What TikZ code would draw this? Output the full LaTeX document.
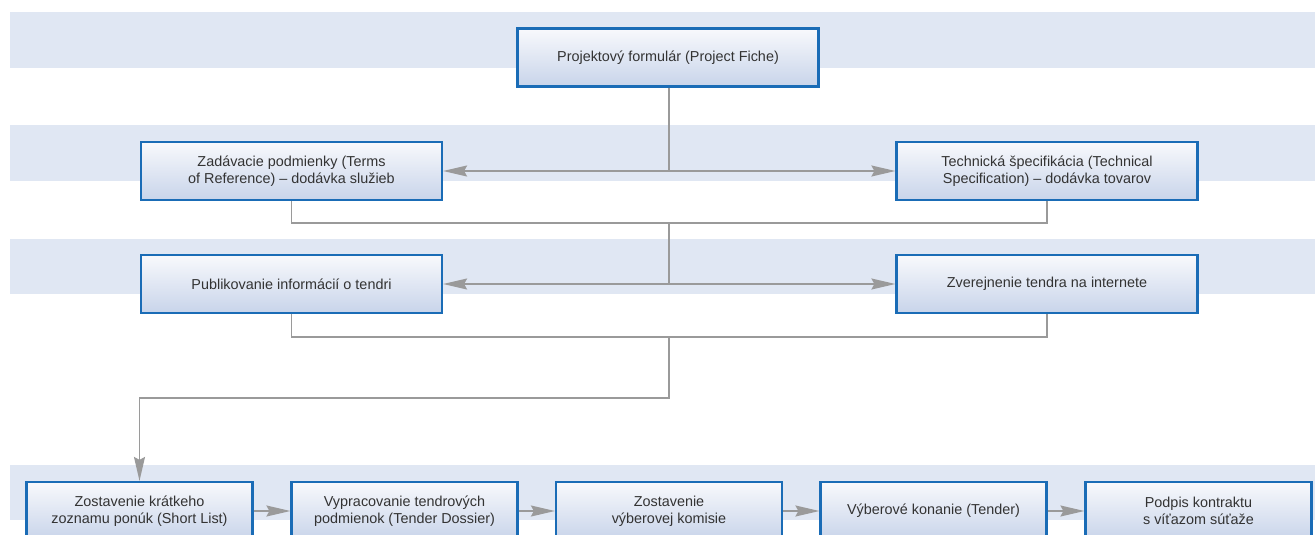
\documentclass[tikz,border=0pt]{standalone}
\usepackage{fontspec}
\setmainfont{Liberation Sans}
\usetikzlibrary{arrows.meta}
\definecolor{bandc}{HTML}{E0E7F3}
\definecolor{boxline}{HTML}{1A6CB6}
\definecolor{boxtop}{HTML}{F8F9FC}
\definecolor{boxbot}{HTML}{C8D4EA}
\definecolor{linec}{HTML}{9A9A9A}
\definecolor{txt}{HTML}{333333}
\tikzset{
  band/.style={fill=bandc, draw=none},
  procbox/.style={rectangle, draw=boxline, line width=2.2pt, top color=boxtop, bottom color=boxbot,
    minimum width=301pt, minimum height=58pt, align=center, text=txt, inner sep=0pt,
    font=\fontsize{14.4pt}{17pt}\selectfont},
  smallbox/.style={procbox, minimum width=226pt},
  conn/.style={draw=linec, line width=1.5pt},
  arr/.style={conn, -{Stealth[length=24pt,width=11pt,inset=3pt,fill=linec]}},
  darr/.style={conn, {Stealth[length=24pt,width=11pt,inset=3pt,fill=linec]}-{Stealth[length=24pt,width=11pt,inset=3pt,fill=linec]}}
}
\begin{document}
\begin{tikzpicture}[x=1pt,y=-1pt]
\useasboundingbox (0,0) rectangle (1315,535);
% bands
\fill[band] (10,12) rectangle (1315,68);
\fill[band] (10,125) rectangle (1315,181);
\fill[band] (10,239) rectangle (1315,294);
\fill[band] (10,465) rectangle (1315,520);
% boxes
\node[procbox] (b1) at (668,57.5) {Projektový formulár (Project Fiche)};
\node[procbox] (b2) at (291.5,171) {Zadávacie podmienky (Terms\\of Reference) – dodávka služieb};
\node[procbox] (b3) at (1047,171) {Technická špecifikácia (Technical\\Specification) – dodávka tovarov};
\node[procbox] (b4) at (291.5,284) {Publikovanie informácií o tendri};
\node[procbox] (b5) at (1047,284) {Zverejnenie tendra na internete};
\node[smallbox] (c1) at (139.5,511) {Zostavenie krátkeho\\zoznamu ponúk (Short List)};
\node[smallbox] (c2) at (404.5,511) {Vypracovanie tendrových\\podmienok (Tender Dossier)};
\node[smallbox] (c3) at (669,511) {Zostavenie\\výberovej komisie};
\node[smallbox] (c4) at (933.5,511) {Výberové konanie (Tender)};
\node[smallbox] (c5) at (1198.5,511) {Podpis kontraktu\\s víťazom súťaže};
% junction coordinates
\coordinate (j1) at (669,171);
\coordinate (j2) at (669,223);
\coordinate (j3) at (669,284);
\coordinate (j4) at (669,337);
\coordinate (j5) at (669,398);
% connectors level 1
\draw[conn] (b1.south -| j1) -- (j1);
\draw[darr] (b2.east) -- (b3.west);
% level 2
\draw[conn] (b2.south) |- (j2) -| (b3.south);
\draw[conn] (j2) -- (j3);
\draw[darr] (b4.east) -- (b5.west);
% level 3
\draw[conn] (b4.south) |- (j4) -| (b5.south);
\draw[arr] (j4) -- (j5) -| (c1.north);
% bottom chain
\draw[arr] (c1) -- (c2);
\draw[arr] (c2) -- (c3);
\draw[arr] (c3) -- (c4);
\draw[arr] (c4) -- (c5);
\end{tikzpicture}
\end{document}
